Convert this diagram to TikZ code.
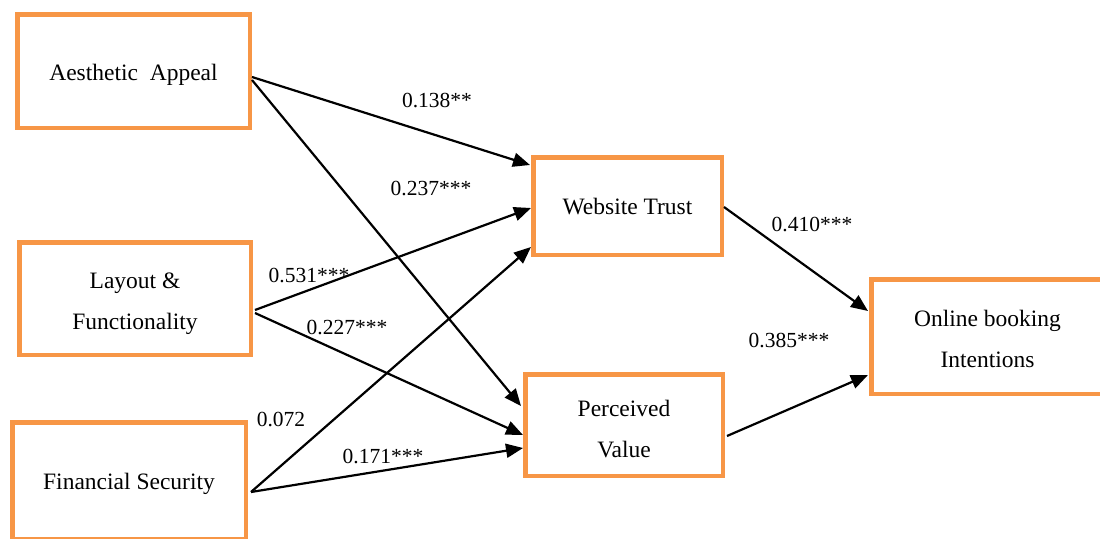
\documentclass[tikz,border=0pt]{standalone}
\usepackage{fontspec}
\setmainfont{Liberation Serif}
\usetikzlibrary{arrows.meta}
\definecolor{boxorange}{RGB}{247,150,70}
\newcommand{\topstrut}[1]{\rule{0pt}{#1pt}}
\tikzset{
  x=1pt, y=-1pt,
  varbox/.style={draw=boxorange, line width=4.5pt, rectangle, align=center,
    inner sep=0pt, font=\fontsize{23.5}{41}\selectfont},
  path/.style={draw=black, line width=2.2pt, -{Triangle[length=17pt,width=14pt]}},
  coef/.style={font=\fontsize{21.5}{24}\selectfont, inner sep=0pt}
}
\begin{document}
\begin{tikzpicture}
\useasboundingbox (0,0) rectangle (1100,538);
\clip (0,0) rectangle (1100,538);
\fill[white] (0,0) rectangle (1100,538);
% boxes
\node[varbox, minimum width=232.5pt, minimum height=113.5pt] (aa) at (133.5,71) {\topstrut{24.3}Aesthetic\ \ Appeal};
\node[varbox, minimum width=231.5pt, minimum height=112.5pt] (lf) at (135,298.5) {\topstrut{25.3}Layout \&\\Functionality};
\node[varbox, minimum width=233.5pt, minimum height=116.5pt] (fs) at (129,480.5) {\topstrut{22.3}Financial Security};
\node[varbox, minimum width=188.5pt, minimum height=97.5pt] (wt) at (627.5,206) {\topstrut{18.3}Website Trust};
\node[varbox, minimum width=197.5pt, minimum height=101.5pt] (pv) at (624,425) {\topstrut{24.3}Perceived\\Value};
\node[varbox, minimum width=232.5pt, minimum height=114.5pt] (obi) at (987.5,336.5) {\topstrut{20.3}Online booking\\Intentions};
% paths
\draw[path] ([yshift=-6pt]aa.east) -- ([yshift=41pt,xshift=-1pt]wt.west);
\draw[path] ([yshift=-9pt]aa.east) -- ([yshift=19pt,xshift=-2pt]pv.west);
\draw[path] ([yshift=-11.5pt,xshift=2pt]lf.east) -- ([yshift=-2pt]wt.west);
\draw[path] ([yshift=-14.5pt,xshift=2pt]lf.east) -- ([yshift=-10pt]pv.west);
\draw[path] ([yshift=-11.5pt,xshift=3pt]fs.east) -- ([yshift=-41pt]wt.west);
\draw[path] ([yshift=-11.5pt,xshift=3pt]fs.east) -- ([yshift=-23pt]pv.west);
\draw[path] ([yshift=-1pt]wt.east) -- ([yshift=25.5pt,xshift=-1pt]obi.west);
\draw[path] ([yshift=-11pt,xshift=2pt]pv.east) -- ([yshift=-38.5pt,xshift=-1pt]obi.west);
% coefficients
\node[coef] (c1) at (437,101) {0.138**};
\node[coef] (c2) at (431,189) {0.237***};
\node[coef] (c3) at (309,275) {0.531***};
\node[coef] (c4) at (347,327) {0.227***};
\node[coef] (c5) at (281,419) {0.072};
\node[coef] (c6) at (383,456) {0.171***};
\node[coef] (c7) at (812,224) {0.410***};
\node[coef] (c8) at (789,340) {0.385***};
\end{tikzpicture}
\end{document}
